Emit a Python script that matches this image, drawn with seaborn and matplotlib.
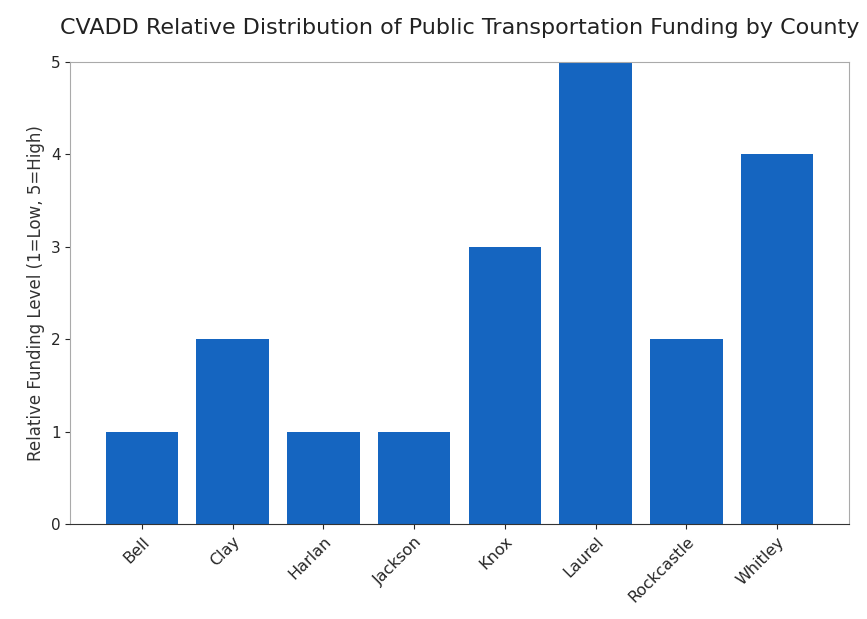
import numpy as np
import pandas as pd
import matplotlib
matplotlib.use("Agg")
import matplotlib.pyplot as plt
import seaborn as sns

counties = ["Bell", "Clay", "Harlan", "Jackson", "Knox", "Laurel", "Rockcastle", "Whitley"]
funding_level = [1, 2, 1, 1, 3, 5, 2, 4]

BAR_COLOR = "#1565c0"

sns.set_style("ticks")
plt.rcParams["font.family"] = ["DejaVu Sans"]

df = pd.DataFrame({"county": counties, "level": funding_level})

fig, ax = plt.subplots(figsize=(8.67, 6.19), dpi=100)
sns.barplot(data=df, x="county", y="level", color=BAR_COLOR, width=0.8,
            saturation=1, linewidth=0, ax=ax)
ax.set_xlim(-0.79, len(counties) - 0.21)
ax.set_ylim(0, 5)
ax.set_title("CVADD Relative Distribution of Public Transportation Funding by County",
             fontsize=16, color="#222222", pad=20)
ax.set_xlabel("")
ax.set_ylabel("Relative Funding Level (1=Low, 5=High)", fontsize=12, color="#333333")
plt.xticks(rotation=45, ha="right", rotation_mode="anchor", fontsize=11.5)
plt.yticks(fontsize=11)
for s in ["top", "right", "left"]:
    ax.spines[s].set_color("#aaaaaa")
ax.spines["bottom"].set_color("#333333")
plt.subplots_adjust(left=0.081, right=0.979, top=0.9, bottom=0.153)
plt.savefig("out.png", dpi=100)
